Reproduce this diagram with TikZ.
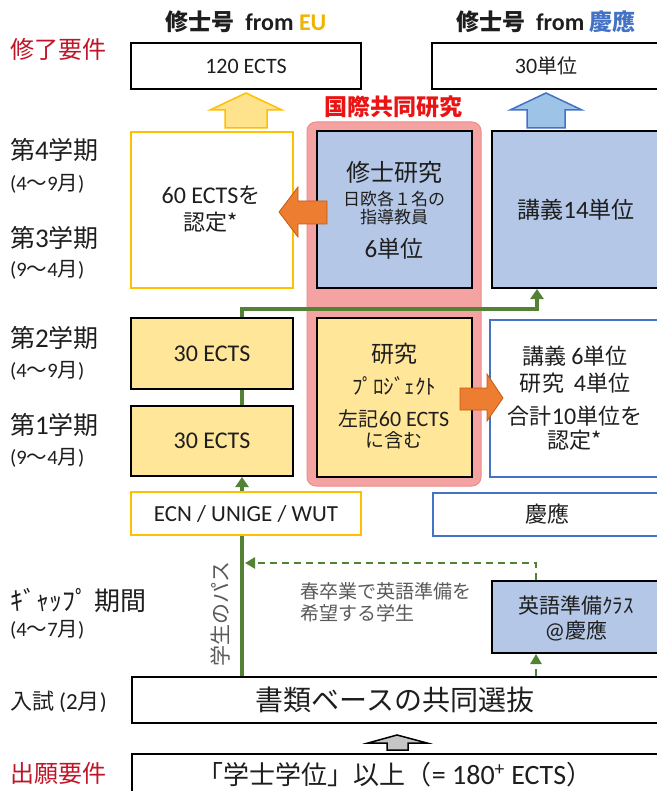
\documentclass[tikz,border=0pt]{standalone}
\usepackage{fontspec}
\setmainfont{Noto Sans CJK JP}
\newfontfamily\carl{Carlito}
\usetikzlibrary{arrows.meta}
\definecolor{gold}{RGB}{255,192,0}
\definecolor{goldt}{RGB}{240,180,0}
\definecolor{kblue}{RGB}{68,114,196}
\definecolor{lblue}{RGB}{180,199,231}
\definecolor{mblue}{RGB}{157,195,230}
\definecolor{lyel}{RGB}{255,230,153}
\definecolor{pinkf}{RGB}{245,162,162}
\definecolor{pinkd}{RGB}{236,140,140}
\definecolor{grn}{RGB}{84,130,53}
\definecolor{orng}{RGB}{237,125,49}
\definecolor{orngd}{RGB}{197,90,17}
\definecolor{redl}{RGB}{192,20,40}
\definecolor{redb}{RGB}{235,20,20}
\definecolor{txt}{RGB}{30,30,30}
\definecolor{gtxt}{RGB}{90,90,90}
\newcommand\fsz[1]{\fontsize{#1}{#1}\selectfont}
\begin{document}
\begin{tikzpicture}[x=1pt,y=-1pt,
  every node/.style={inner sep=0pt, text=txt},
  blk/.style={draw=black, line width=2pt},
  goldbox/.style={draw=gold, line width=2.7pt, fill=white},
  bluebox/.style={draw=kblue, line width=2.7pt, fill=white},
  lbl/.style={anchor=west},
  gline/.style={draw=grn, line width=4pt},
  garrow/.style={draw=grn, line width=4pt, -{Triangle[length=10pt,width=13pt]}},
  gdash/.style={draw=grn, line width=2.6pt, dash pattern=on 7pt off 5pt, -{Triangle[length=10pt,width=11pt]}}
]
\useasboundingbox (0,0) rectangle (656,791);
\fill[white] (0,0) rectangle (656,791);

% titles
\node (teu) at (246,22) {\fsz{23}\bfseries 修士号 {\carl\fsz{24} from \textcolor{goldt}{EU}}};
\node (tkeio) at (546,22) {\fsz{23}\bfseries 修士号 {\carl\fsz{24} from} \textcolor{kblue}{慶應}};

% left labels
\node[lbl, text=redl] (lreq) at (10,49) {\fsz{24}修了要件};
\node[lbl] (l4) at (10,150) {\fsz{25}第{\carl\fsz{27}4}学期};
\node[lbl] (l4s) at (10,184) {\fsz{20.5}{\carl(4}～{\carl 9}月{\carl)}};
\node[lbl] (l3) at (10,238) {\fsz{25}第{\carl\fsz{27}3}学期};
\node[lbl] (l3s) at (10,270) {\fsz{20.5}{\carl(9}～{\carl 4}月{\carl)}};
\node[lbl] (l2) at (10,338) {\fsz{25}第{\carl\fsz{27}2}学期};
\node[lbl] (l2s) at (10,371) {\fsz{20.5}{\carl(4}～{\carl 9}月{\carl)}};
\node[lbl] (l1) at (10,425) {\fsz{25}第{\carl\fsz{27}1}学期};
\node[lbl] (l1s) at (10,458) {\fsz{20.5}{\carl(9}～{\carl 4}月{\carl)}};
\node[lbl] (lgap) at (10,600) {\fsz{26}ｷﾞｬｯﾌﾟ\ 期間};
\node[lbl] (lgaps) at (10,630) {\fsz{20.5}{\carl(4}～{\carl 7}月{\carl)}};
\node[lbl] (lexam) at (10,702) {\fsz{22}入試 {\carl\fsz{23}(2}月{\carl\fsz{23})}};
\node[lbl, text=redl] (lapp) at (10,773) {\fsz{24}出願要件};

% top boxes
\node[blk, fill=white, minimum width=230pt, minimum height=46pt] (eu120) at (246,66) {\carl\fsz{22}120 ECTS};
\node[blk, fill=white, minimum width=228pt, minimum height=46pt] (k30) at (546,66) {\fsz{20}{\carl\fsz{22}30}単位};

% block arrows up
\filldraw[fill=gold!45, draw=gold, line width=1.5pt] (246,93) -- (282,110) -- (267,110) -- (267,128) -- (225,128) -- (225,110) -- (210,110) -- cycle;
\filldraw[fill=mblue, draw=kblue, line width=1.5pt] (546,93) -- (582,110) -- (565,110) -- (565,128) -- (527,128) -- (527,110) -- (510,110) -- cycle;

\node[text=redb] (kokusai) at (393,107) {\fsz{23}\bfseries 国際共同研究};

% pink frame
\node[draw=pinkd, fill=pinkf, line width=1pt, rounded corners=9pt, minimum width=174pt, minimum height=364pt] (pink) at (394,304) {};

% upper row
\node[goldbox, minimum width=162pt, minimum height=156pt] (e60) at (212,210) {};
\node (e60a) at (211,195) {\fsz{22}{\carl\fsz{24}60 ECTS}を};
\node (e60b) at (211,222) {\fsz{22}認定*};

\node[blk, fill=lblue, minimum width=155pt, minimum height=157pt] (shuron) at (394.5,209.5) {};
\node (sh1) at (394,172) {\fsz{24}修士研究};
\node (sh2) at (394,199) {\fsz{17}日欧各１名の};
\node (sh3) at (394,217) {\fsz{17}指導教員};
\node (sh4) at (394,249) {\fsz{23}{\carl\fsz{25}6}単位};

\node[blk, fill=lblue, minimum width=168pt, minimum height=157pt] (kogi14) at (576,209.5) {\fsz{23}講義{\carl\fsz{25}14}単位};

% lower row
\node[blk, fill=lyel, minimum width=162pt, minimum height=71pt] (s2) at (212,353.5) {\carl\fsz{24}30 ECTS};
\node[blk, fill=lyel, minimum width=162pt, minimum height=70pt] (s1) at (212,441) {\carl\fsz{24}30 ECTS};

\node[blk, fill=lyel, minimum width=155pt, minimum height=159pt] (proj) at (394.5,397.5) {};
\node (pr1) at (394,354) {\fsz{23}研究};
\node (pr2) at (394,386) {\fsz{21}ﾌﾟﾛｼﾞｪｸﾄ};
\node (pr3) at (394,419) {\fsz{20}左記{\carl\fsz{22}60 ECTS}};
\node (pr4) at (394,440) {\fsz{19}に含む};

\node[bluebox, minimum width=170pt, minimum height=157pt] (kright) at (575,398.5) {};
\node (kr1) at (575,356) {\fsz{22}講義 {\carl\fsz{24}6}単位};
\node (kr2) at (575,383) {\fsz{22}研究\ \ {\carl\fsz{24}4}単位};
\node (kr3) at (575,416) {\fsz{22}合計{\carl\fsz{24}10}単位を};
\node (kr4) at (575,440) {\fsz{22}認定*};

% orange arrows
\filldraw[fill=orng, draw=orngd, line width=0.8pt] (279,212) -- (298,187) -- (298,201) -- (327,201) -- (327,224) -- (298,224) -- (298,237) -- cycle;
\filldraw[fill=orng, draw=orngd, line width=0.8pt] (503,398) -- (487,374) -- (487,388) -- (460,388) -- (460,410) -- (487,410) -- (487,421) -- cycle;

% bottom boxes
\node[blk, fill=white, minimum width=526pt, minimum height=46pt] (shorui) at (395,700) {\fsz{28}書類ベースの共同選抜};
\node[blk, fill=white, minimum width=526pt, minimum height=47pt] (req) at (395,777) {};
\node (reqt) at (395,775) {\fsz{26}「学士学位」以上（{\carl\fsz{28}= 180\textsuperscript{+} ECTS}）};
\filldraw[fill=gray!45, draw=black, line width=1.5pt] (397,735) -- (427,743) -- (408,743) -- (408,750) -- (387,750) -- (387,743) -- (368,743) -- cycle;

\node[blk, fill=lblue, minimum width=168pt, minimum height=72pt] (eng) at (576,617) {};
\node (en1) at (576,605) {\fsz{21}英語準備ｸﾗｽ};
\node (en2) at (576,631) {\fsz{21}{\carl\fsz{23}@}慶應};

\node[anchor=west, text=gtxt] (spring1) at (300,591) {\fsz{19}春卒業で英語準備を};
\node[anchor=west, text=gtxt] (spring2) at (300,613) {\fsz{19}希望する学生};
\node[rotate=90, text=gtxt] (spath) at (220,614) {\fsz{21}学生のパス};

% green connectors
\coordinate (gx) at (242,0);
\coordinate (turn) at (537,309);
\coordinate (dx) at (536,563);
\coordinate (dend) at (245,563);
\draw[garrow] (shorui.north -| gx) -- (s1.south -| gx);
\draw[gline] (s1.north -| gx) -- (s2.south -| gx);
\draw[garrow] (s2.north -| gx) |- (turn) -- (kogi14.south -| turn);
\draw[gdash] (shorui.north -| dx) -- (eng.south -| dx);
\draw[gdash] (eng.north -| dx) |- (dend);

% school boxes (on top of green line)
\node[goldbox, minimum width=230pt, minimum height=43pt] (ecn) at (246,513.5) {\carl\fsz{23}ECN / UNIGE / WUT};
\node[bluebox, minimum width=228pt, minimum height=43pt] (keio) at (547,514.5) {\fsz{22}慶應};
\end{tikzpicture}
\end{document}
